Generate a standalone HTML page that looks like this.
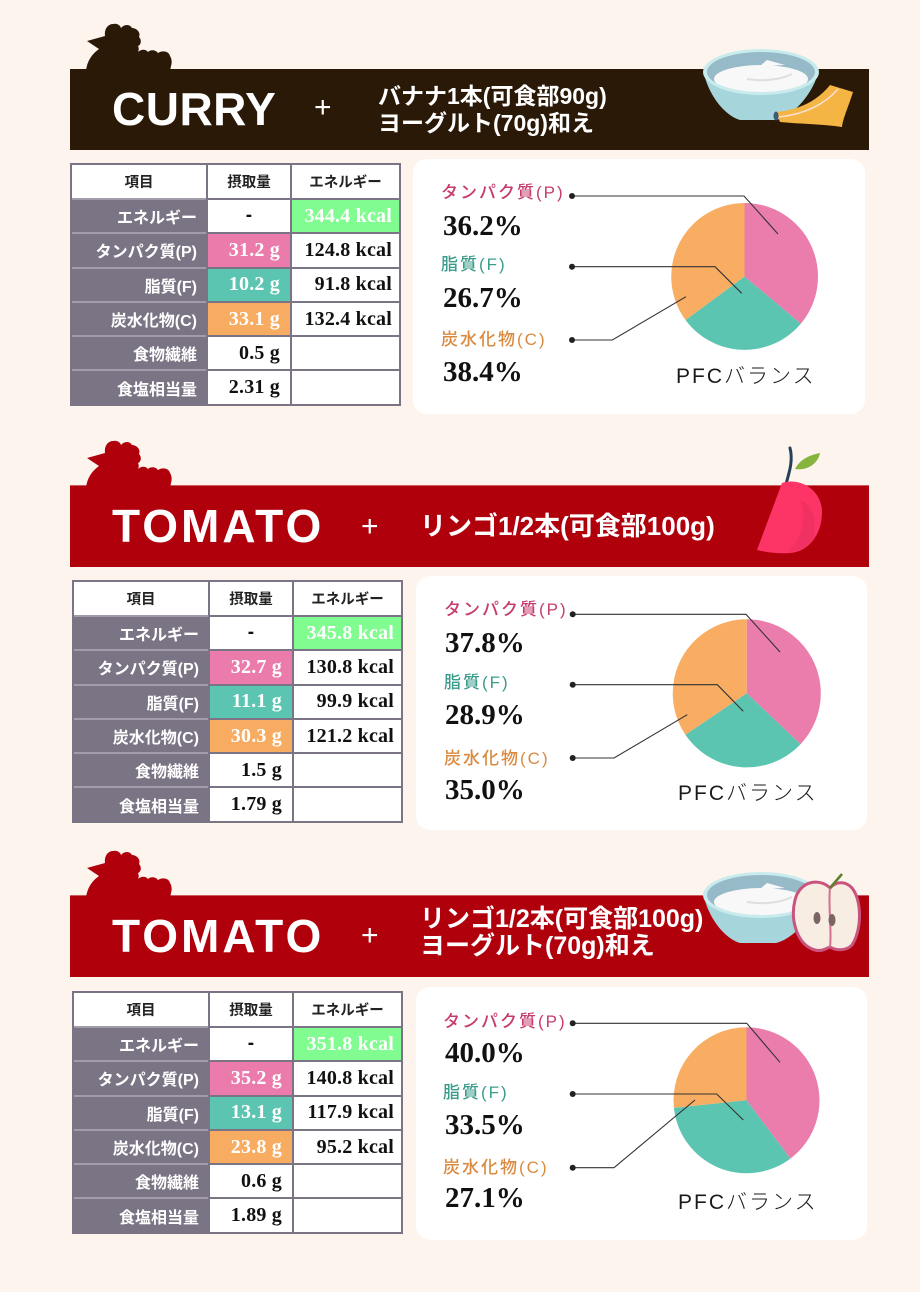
<!DOCTYPE html>
<html lang="ja">
<head>
<meta charset="utf-8">
<style>
  html,body{margin:0;padding:0;}
  body{width:920px;height:1292px;background:#fdf4ee;position:relative;overflow:hidden;
       font-family:"Liberation Sans","Noto Sans CJK JP",sans-serif;}
  .abs{position:absolute;white-space:nowrap;}
  .bar{position:absolute;left:70px;width:799px;height:81px;}
  .dark{background:#2a1907;}
  .red{background:#b0000c;box-shadow:0 -1px 0 #cf5a5f;}
  .ttl{position:absolute;color:#fff;font-family:"Liberation Sans",sans-serif;font-weight:bold;font-size:46px;line-height:46px;}
  .plus{position:absolute;color:#fff;font-family:"Liberation Sans",sans-serif;font-size:30px;line-height:30px;}
  .jp{position:absolute;color:#fff;font-family:"Liberation Sans","Noto Sans CJK JP",sans-serif;font-weight:bold;white-space:nowrap;}
  .box{position:absolute;background:#fff;border-radius:14px;}
  .tb{position:absolute;background:#7b7484;display:grid;grid-template-columns:134px 82px 107px;
      grid-template-rows:33px repeat(6,32.3px);gap:2px;padding:2px;}
  .tb div{display:flex;align-items:center;white-space:nowrap;}
  .h{background:#fff;justify-content:center;font-family:"Liberation Sans","Noto Sans CJK JP",sans-serif;font-weight:bold;font-size:14.5px;color:#222;}
  .lb{color:#fff;justify-content:flex-end;padding-right:9px;font-family:"Liberation Sans","Noto Sans CJK JP",sans-serif;font-weight:bold;font-size:16px;box-shadow:0 -2px 0 #a29caa;}
  .v{background:#fff;justify-content:flex-end;padding-right:10px;font-family:"Liberation Serif",serif;font-weight:bold;font-size:20px;color:#111;letter-spacing:0.2px;}
  .k{padding-right:7px;}
  .c{justify-content:center;padding-right:0;font-family:"Liberation Sans",sans-serif;font-size:19px;}
  .pk{background:#ea7bab;color:#fff;}
  .tl{background:#5bc5b1;color:#fff;}
  .or{background:#f8ac62;color:#fff;}
  .gr{background:#80fc90;color:#fff;}
  .lab{position:absolute;font-family:"Liberation Sans","Noto Sans CJK JP",sans-serif;font-weight:500;font-size:17px;line-height:17px;letter-spacing:2px;white-space:nowrap;}
  .p{color:#c63c6f;} .f{color:#3c9c8c;} .cc{color:#d98a40;}
  .pct{position:absolute;font-family:"Liberation Serif",serif;font-weight:bold;font-size:29px;line-height:29px;color:#111;white-space:nowrap;}
  .pfc{position:absolute;font-family:"Liberation Sans","Noto Sans CJK JP",sans-serif;font-weight:300;font-size:21px;line-height:21px;letter-spacing:2px;color:#1a1a1a;white-space:nowrap;}
</style>
</head>
<body>

<!-- Bars -->
<div class="bar dark" style="top:69px;"></div>
<div class="bar red" style="top:486px;"></div>
<div class="bar red" style="top:896px;"></div>

<!-- Pie boxes -->
<div class="box" style="left:413px;top:159px;width:452px;height:255px;"></div>
<div class="box" style="left:416px;top:576px;width:451px;height:254px;"></div>
<div class="box" style="left:416px;top:987px;width:451px;height:253px;"></div>

<!-- Table 1 -->
<div class="tb" style="left:70px;top:163px;">
  <div class="h">項目</div><div class="h">摂取量</div><div class="h">エネルギー</div>
  <div class="lb">エネルギー</div><div class="v c">-</div><div class="v k gr">344.4 kcal</div>
  <div class="lb">タンパク質(P)</div><div class="v pk">31.2 g</div><div class="v k">124.8 kcal</div>
  <div class="lb">脂質(F)</div><div class="v tl">10.2 g</div><div class="v k">91.8 kcal</div>
  <div class="lb">炭水化物(C)</div><div class="v or">33.1 g</div><div class="v k">132.4 kcal</div>
  <div class="lb">食物繊維</div><div class="v">0.5 g</div><div class="v k"></div>
  <div class="lb">食塩相当量</div><div class="v">2.31 g</div><div class="v k"></div>
</div>

<!-- Table 2 -->
<div class="tb" style="left:72px;top:580px;">
  <div class="h">項目</div><div class="h">摂取量</div><div class="h">エネルギー</div>
  <div class="lb">エネルギー</div><div class="v c">-</div><div class="v k gr">345.8 kcal</div>
  <div class="lb">タンパク質(P)</div><div class="v pk">32.7 g</div><div class="v k">130.8 kcal</div>
  <div class="lb">脂質(F)</div><div class="v tl">11.1 g</div><div class="v k">99.9 kcal</div>
  <div class="lb">炭水化物(C)</div><div class="v or">30.3 g</div><div class="v k">121.2 kcal</div>
  <div class="lb">食物繊維</div><div class="v">1.5 g</div><div class="v k"></div>
  <div class="lb">食塩相当量</div><div class="v">1.79 g</div><div class="v k"></div>
</div>

<!-- Table 3 -->
<div class="tb" style="left:72px;top:991px;">
  <div class="h">項目</div><div class="h">摂取量</div><div class="h">エネルギー</div>
  <div class="lb">エネルギー</div><div class="v c">-</div><div class="v k gr">351.8 kcal</div>
  <div class="lb">タンパク質(P)</div><div class="v pk">35.2 g</div><div class="v k">140.8 kcal</div>
  <div class="lb">脂質(F)</div><div class="v tl">13.1 g</div><div class="v k">117.9 kcal</div>
  <div class="lb">炭水化物(C)</div><div class="v or">23.8 g</div><div class="v k">95.2 kcal</div>
  <div class="lb">食物繊維</div><div class="v">0.6 g</div><div class="v k"></div>
  <div class="lb">食塩相当量</div><div class="v">1.89 g</div><div class="v k"></div>
</div>

<!-- Graphics -->
<svg class="abs" style="left:0;top:0;" width="920" height="1292" viewBox="0 0 920 1292" xmlns="http://www.w3.org/2000/svg">
  <defs>
    <path id="hen" d="M 86 71 C 87 61 92 54 99 49 L 87 41 L 105 36 C 104 29 108 24 113 24 C 117 23 120 25 121 28 C 124 24 130 24 132 28 C 137 28 141 33 139 37 C 142 40 141 45 138 46 C 139 48 139 50 138 52 C 141 49 146 49 148 52 C 151 49 156 50 158 53 C 162 50 169 51 170 56 C 172 59 172 63 171 66 L 170 71 Z"/>
    <clipPath id="inner1"><ellipse cx="761" cy="72" rx="54" ry="20"/></clipPath>
    <clipPath id="inner3"><ellipse cx="761" cy="895" rx="54" ry="20"/></clipPath>
  </defs>

  <!-- hens -->
  <use href="#hen" fill="#2a1907"/>
  <use href="#hen" fill="#b0000c" transform="translate(0,417)"/>
  <use href="#hen" fill="#b0000c" transform="translate(0,827)"/>

  <!-- Curry bowl + banana -->
  <g>
    <path d="M 704 74 C 710 98 726 116 740 120 L 776 120 C 792 116 810 98 818 74 Z" fill="#a7d5dc"/>
    <ellipse cx="761" cy="72" rx="58" ry="23" fill="#c8eced"/>
    <ellipse cx="761" cy="72" rx="54" ry="20" fill="#97bac8"/>
    <g clip-path="url(#inner1)">
      <ellipse cx="761" cy="86" rx="46" ry="10" fill="#dcdcdc"/>
      <ellipse cx="761" cy="79" rx="47" ry="14" fill="#f8f8f8"/>
      <path d="M 760 66 L 767 60 L 785 65 Z" fill="#f8f8f8"/>
      <path d="M 747 79 C 765 82 782 79 792 74" stroke="#dedede" stroke-width="2" fill="none"/>
    </g>
    <path d="M 776 112 C 800 110 818 100 830 85 L 853 92 C 848 108 843 118 842 127 C 822 124 800 124 780 122 Z" fill="#f4b545"/>
    <path d="M 779 117 C 805 114 825 104 838 89" stroke="#fbe0d6" stroke-width="1.5" fill="none"/>
    <ellipse cx="776" cy="116" rx="2.5" ry="4.5" fill="#3c5a7a"/>
  </g>

  <!-- Apple slice (section 2) -->
  <g>
    <path d="M 786 484 C 790 470 793 460 790 448" stroke="#27405a" stroke-width="3" fill="none" stroke-linecap="round"/>
    <path d="M 795 469 C 800 459 810 455 820 453 C 818 463 808 471 795 469 Z" fill="#86b43c"/>
    <path d="M 782 483 C 800 477 822 490 822 512 C 822 535 808 552 790 553 C 778 554 765 552 757 550 Z" fill="#fd3566"/>
    <path d="M 800 500 C 815 505 818 525 812 540 C 806 548 796 552 788 552 C 800 540 808 520 800 500 Z" fill="#e42d5c" opacity="0.5"/>
  </g>

  <!-- Section 3 bowl + apple half -->
  <g transform="translate(0,823)">
    <path d="M 704 74 C 710 98 726 116 740 120 L 776 120 C 792 116 810 98 818 74 Z" fill="#a7d5dc"/>
    <ellipse cx="761" cy="72" rx="58" ry="23" fill="#c8eced"/>
    <ellipse cx="761" cy="72" rx="54" ry="20" fill="#97bac8"/>
  </g>
  <g clip-path="url(#inner3)">
    <ellipse cx="761" cy="909" rx="46" ry="10" fill="#dcdcdc"/>
    <ellipse cx="761" cy="902" rx="47" ry="14" fill="#f8f8f8"/>
    <path d="M 760 889 L 767 883 L 785 888 Z" fill="#f8f8f8"/>
    <path d="M 747 902 C 765 905 782 902 792 897" stroke="#dedede" stroke-width="2" fill="none"/>
  </g>
  <g>
    <path d="M 830 888 C 820 878 800 880 795 900 C 790 920 797 945 815 950 C 822 952 827 948 830 947 C 835 950 845 952 852 945 C 862 930 862 900 852 888 C 845 880 835 882 830 888 Z" fill="#f7ede2" stroke="#c9557f" stroke-width="3"/>
    <path d="M 830 888 C 828 905 832 930 830 947" stroke="#d2708f" stroke-width="2" fill="none"/>
    <ellipse cx="817" cy="918" rx="3.5" ry="6" fill="#7d6464"/>
    <ellipse cx="832" cy="920" rx="3.5" ry="6" fill="#7d6464"/>
    <path d="M 830 888 L 842 874" stroke="#5e7e2c" stroke-width="2.5" fill="none"/>
  </g>

  <!-- Pie 1 -->
  <g>
    <path d="M 744.5 276.5 L 744.5 203 A 73.5 73.5 0 0 1 800.8 323.75 Z" fill="#ea7dab"/>
    <path d="M 744.5 276.5 L 800.8 323.75 A 73.5 73.5 0 0 1 685.5 320 Z" fill="#5bc5b1"/>
    <path d="M 744.5 276.5 L 685.5 320 A 73.5 73.5 0 0 1 744.5 203 Z" fill="#f8ad62"/>
    <g stroke="#333" stroke-width="1.1" fill="none">
      <polyline points="572,196 744,196 778,234"/>
      <polyline points="572,266.7 715,266.7 741.7,293.3"/>
      <polyline points="572,340 612.3,340 686,296.7"/>
    </g>
    <g fill="#222">
      <circle cx="572" cy="196" r="3"/>
      <circle cx="572" cy="266.7" r="3"/>
      <circle cx="572" cy="340" r="3"/>
    </g>
  </g>

  <!-- Pie 2 -->
  <g>
    <path d="M 746.7 693.3 L 746.7 619.3 A 74 74 0 0 1 800.5 744.2 Z" fill="#ea7dab"/>
    <path d="M 746.7 693.3 L 800.5 744.2 A 74 74 0 0 1 685.4 734.7 Z" fill="#5bc5b1"/>
    <path d="M 746.7 693.3 L 685.4 734.7 A 74 74 0 0 1 746.7 619.3 Z" fill="#f8ad62"/>
    <g stroke="#333" stroke-width="1.1" fill="none">
      <polyline points="572.7,614.3 746,614.3 780,652"/>
      <polyline points="572.7,684.7 717.3,684.7 743.3,711.3"/>
      <polyline points="572.7,758 614,758 687.3,714.7"/>
    </g>
    <g fill="#222">
      <circle cx="572.7" cy="614.3" r="3"/>
      <circle cx="572.7" cy="684.7" r="3"/>
      <circle cx="572.7" cy="758" r="3"/>
    </g>
  </g>

  <!-- Pie 3 -->
  <g>
    <path d="M 746.5 1100.3 L 746.5 1027.3 A 73 73 0 0 1 790.4 1158.6 Z" fill="#ea7dab"/>
    <path d="M 746.5 1100.3 L 790.4 1158.6 A 73 73 0 0 1 673.9 1107.9 Z" fill="#5bc5b1"/>
    <path d="M 746.5 1100.3 L 673.9 1107.9 A 73 73 0 0 1 746.5 1027.3 Z" fill="#f8ad62"/>
    <g stroke="#333" stroke-width="1.1" fill="none">
      <polyline points="572.7,1023.3 746.7,1023.3 780,1062.3"/>
      <polyline points="572.7,1094 716.7,1094 743.3,1120"/>
      <polyline points="572.7,1167.7 614,1167.7 695,1100"/>
    </g>
    <g fill="#222">
      <circle cx="572.7" cy="1023.3" r="3"/>
      <circle cx="572.7" cy="1094" r="3"/>
      <circle cx="572.7" cy="1167.7" r="3"/>
    </g>
  </g>
</svg>

<!-- Header texts -->
<div class="ttl" style="left:112px;top:86px;letter-spacing:0.5px;">CURRY</div>
<div class="plus" style="left:314px;top:93px;">+</div>
<div class="jp" style="left:378px;top:83px;font-size:23px;line-height:27px;">バナナ1本(可食部90g)<br>ヨーグルト(70g)和え</div>

<div class="ttl" style="left:112px;top:503px;letter-spacing:3px;">TOMATO</div>
<div class="plus" style="left:361px;top:512px;">+</div>
<div class="jp" style="left:420px;top:511px;font-size:26px;line-height:30px;">リンゴ1/2本(可食部100g)</div>

<div class="ttl" style="left:112px;top:913px;letter-spacing:3px;">TOMATO</div>
<div class="plus" style="left:361px;top:921px;">+</div>
<div class="jp" style="left:420px;top:906px;font-size:25px;line-height:27px;">リンゴ1/2本(可食部100g)<br>ヨーグルト(70g)和え</div>

<!-- Pie labels 1 -->
<div class="lab p" style="left:441px;top:184px;">タンパク質(P)</div>
<div class="pct" style="left:443px;top:212px;">36.2%</div>
<div class="lab f" style="left:441px;top:256px;">脂質(F)</div>
<div class="pct" style="left:443px;top:284px;">26.7%</div>
<div class="lab cc" style="left:441px;top:331px;">炭水化物(C)</div>
<div class="pct" style="left:443px;top:358px;">38.4%</div>
<div class="pfc" style="left:676px;top:366px;">PFCバランス</div>

<!-- Pie labels 2 -->
<div class="lab p" style="left:444px;top:601px;">タンパク質(P)</div>
<div class="pct" style="left:445px;top:629px;">37.8%</div>
<div class="lab f" style="left:444px;top:674px;">脂質(F)</div>
<div class="pct" style="left:445px;top:701px;">28.9%</div>
<div class="lab cc" style="left:444px;top:750px;">炭水化物(C)</div>
<div class="pct" style="left:445px;top:776px;">35.0%</div>
<div class="pfc" style="left:678px;top:783px;">PFCバランス</div>

<!-- Pie labels 3 -->
<div class="lab p" style="left:443px;top:1013px;">タンパク質(P)</div>
<div class="pct" style="left:445px;top:1039px;">40.0%</div>
<div class="lab f" style="left:443px;top:1084px;">脂質(F)</div>
<div class="pct" style="left:445px;top:1111px;">33.5%</div>
<div class="lab cc" style="left:443px;top:1159px;">炭水化物(C)</div>
<div class="pct" style="left:445px;top:1184px;">27.1%</div>
<div class="pfc" style="left:678px;top:1192px;">PFCバランス</div>

</body>
</html>
